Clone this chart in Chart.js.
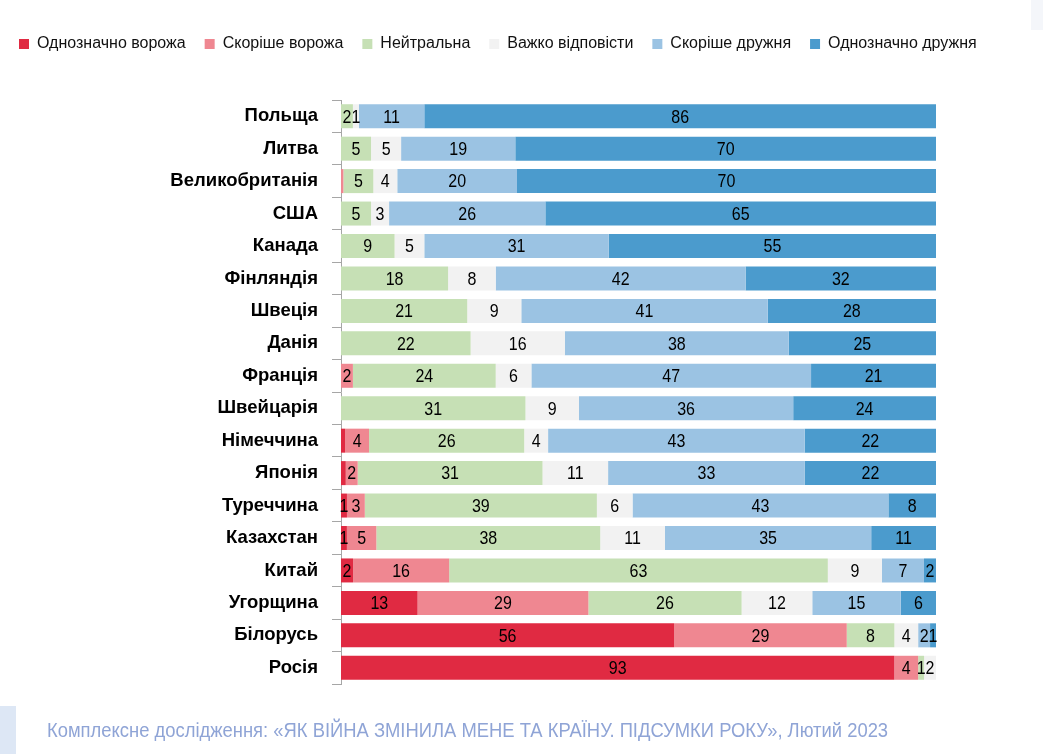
<!DOCTYPE html>
<html lang="uk">
<head>
<meta charset="utf-8">
<script src="https://cdn.jsdelivr.net/npm/chart.js@4/dist/chart.umd.min.js"></script>
<style>
  body { margin: 0; background: #fff; }
  #wrap { position: relative; width: 1043px; height: 754px; overflow: hidden; }
  #footer { position: absolute; left: 47px; top: 719px; font: 20px "Liberation Sans", Arial, sans-serif; color: #8fa4d6; white-space: nowrap; transform: scaleX(0.92); transform-origin: left center; }
  #corner { position: absolute; left: 0; top: 706px; width: 16px; height: 48px; background: #dde7f5; }
  #topbox { position: absolute; left: 1031px; top: 0; width: 12px; height: 30px; background: #f4f6fa; }
</style>
</head>
<body>
<div id="wrap">
  <canvas id="myChart" width="1043" height="754"></canvas>
  <div id="corner"></div>
  <div id="topbox"></div>
  <div id="footer">Комплексне дослідження: «ЯК ВІЙНА ЗМІНИЛА МЕНЕ ТА КРАЇНУ. ПІДСУМКИ РОКУ», Лютий 2023</div>
</div>
<script>
const countries = ['Польща', 'Литва', 'Великобританія', 'США', 'Канада', 'Фінляндія', 'Швеція', 'Данія', 'Франція',
  'Швейцарія', 'Німеччина', 'Японія', 'Туреччина', 'Казахстан', 'Китай', 'Угорщина', 'Білорусь', 'Росія'];

const seriesNames = ['Однозначно ворожа', 'Скоріше ворожа', 'Нейтральна', 'Важко відповісти', 'Скоріше дружня', 'Однозначно дружня'];
const seriesColors = ['#e02a42', '#ef8791', '#c6e0b5', '#f2f2f2', '#9bc3e3', '#4b9bcd'];

// values in %
const hostileSure   = [0, 0, 0,   0, 0, 0, 0, 0, 0, 0, 0.7, 0.8, 1, 1, 2, 13, 56, 93];
const hostileRather = [0, 0, 0.4, 0, 0, 0, 0, 0, 2, 0, 4,   2,   3, 5, 16, 29, 29, 4];
const neutral       = [2, 5, 5,   5, 9, 18, 21, 22, 24, 31, 26, 31, 39, 38, 63, 26, 8, 1];
const hardToSay     = [1, 5, 4,   3, 5, 8, 9, 16, 6, 9, 4, 11, 6, 11, 9, 12, 4, 2];
const friendlyRather= [11, 19, 20, 26, 31, 42, 41, 38, 47, 36, 43, 33, 43, 35, 7, 15, 2, 0];
const friendlySure  = [86, 70, 70, 65, 55, 32, 28, 25, 21, 24, 22, 22, 8, 11, 2, 6, 1, 0];

const allSeries = [hostileSure, hostileRather, neutral, hardToSay, friendlyRather, friendlySure];

// 100% stacked: each row scaled to its own total
const rowTotals = countries.map((c, i) => allSeries.reduce((s, arr) => s + arr[i], 0));

const datasets = allSeries.map((arr, k) => ({
  label: seriesNames[k],
  data: arr.map((v, i) => v / rowTotals[i] * 100),
  raw: arr,
  backgroundColor: seriesColors[k],
  borderWidth: 0,
  barPercentage: 0.74,
  categoryPercentage: 1
}));

// numbers inside the segments (a bit stretched up, like the original)
const valueLabels = {
  id: 'valueLabels',
  afterDatasetsDraw(chart) {
    const ctx = chart.ctx;
    chart.data.datasets.forEach((ds, k) => {
      const meta = chart.getDatasetMeta(k);
      meta.data.forEach((bar, i) => {
        const v = ds.raw[i];
        if (v < 1) return;
        ctx.save();
        ctx.font = '16px "Liberation Sans", Arial, sans-serif';
        ctx.fillStyle = '#000';
        ctx.textAlign = 'center';
        ctx.textBaseline = 'middle';
        ctx.translate((bar.x + bar.base) / 2, bar.y + 1);
        ctx.scale(1, 1.2);
        ctx.fillText(String(v), 0, 0);
        ctx.restore();
      });
    });
  }
};

// space under the legend
const legendMargin = {
  id: 'legendMargin',
  beforeInit(chart) {
    const fit = chart.legend.fit;
    chart.legend.fit = function () {
      fit.bind(chart.legend)();
      this.height += 38;
    };
  }
};

const fontFam = '"Liberation Sans", Arial, sans-serif';

const chart = new Chart(document.getElementById('myChart'), {
  type: 'bar',
  data: { labels: countries, datasets },
  options: {
    indexAxis: 'y',
    responsive: false,
    animation: false,
    layout: { padding: { top: 17, right: 0, bottom: 70, left: 0 } },
    scales: {
      x: { stacked: true, min: 0, max: 100, display: false },
      y: {
        stacked: true,
        afterFit(scale) { scale.width = 341; },
        border: { display: true, color: '#a6a6a6' },
        grid: { drawOnChartArea: false, color: '#a6a6a6', tickLength: 9, offset: true },
        ticks: { color: '#000', padding: 14, font: { family: fontFam, size: 18.5, weight: 'bold' } }
      },
      yRight: {
        type: 'category',
        position: 'right',
        afterFit(scale) { scale.width = 107; },
        border: { display: false },
        grid: { display: false },
        ticks: { display: false }
      }
    },
    plugins: {
      legend: {
        position: 'top',
        align: 'start',
        labels: {
          boxWidth: 10, boxHeight: 10, padding: 19, color: '#111',
          font: { family: fontFam, size: 16 }
        }
      },
      tooltip: { enabled: false }
    }
  },
  plugins: [valueLabels, legendMargin]
});
</script>
</body>
</html>
